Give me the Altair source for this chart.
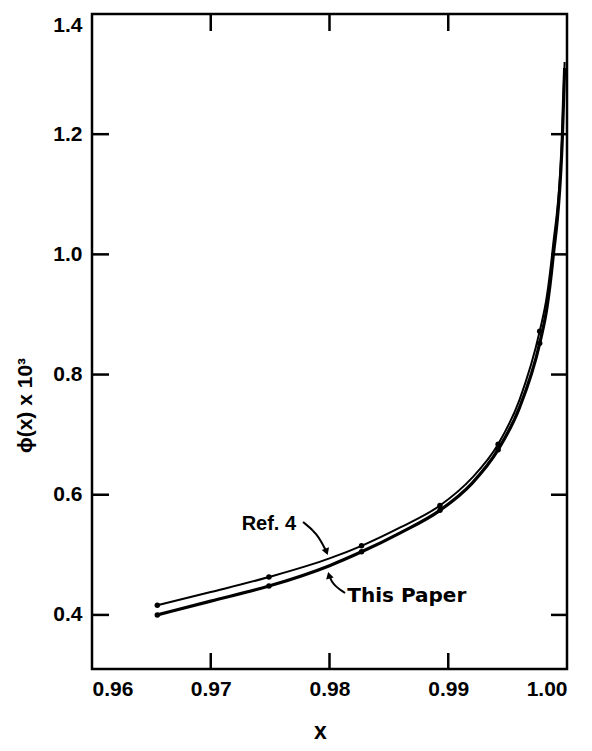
import altair as alt
import pandas as pd

# ---- data ----
x_vals = [0.9655, 0.9700, 0.9749, 0.9800, 0.9827, 0.9860, 0.9893, 0.9920,
          0.9942, 0.9960, 0.9977, 0.9983, 0.9988, 0.9996, 0.9998]
ref4_vals = [0.416, 0.438, 0.463, 0.494, 0.515, 0.546, 0.582, 0.628,
             0.684, 0.758, 0.872, 0.930, 1.010, 1.200, 1.320]
this_vals = [0.400, 0.423, 0.448, 0.482, 0.505, 0.537, 0.574, 0.619,
             0.675, 0.745, 0.852, 0.910, 0.990, 1.190, 1.310]
marker_x = [0.9655, 0.9749, 0.9827, 0.9893, 0.9942, 0.9977]

x_ticks = [0.96, 0.97, 0.98, 0.99, 1.00]
y_ticks = [0.4, 0.6, 0.8, 1.0, 1.2, 1.4]
inner_x_ticks = [0.97, 0.98, 0.99]
inner_y_ticks = [0.4, 0.6, 0.8, 1.0, 1.2]

# annotations
ref_label = "Ref. 4"
ref_label_xy = (0.9726, 0.541)
ref_arrow_x = [0.97777, 0.97895, 0.97975]
ref_arrow_y = [0.5546, 0.5363, 0.5050]
this_label = "This Paper"
this_label_xy = (0.9815, 0.4215)
this_arrow_x = [0.98131, 0.98029, 0.97996]
this_arrow_y = [0.4365, 0.4498, 0.4660]

W, H = 475, 655
FONT = "Liberation Sans"

xs = alt.Scale(domain=[0.96, 1.00], nice=False, zero=False)
ys = alt.Scale(domain=[0.31, 1.40], nice=False, zero=False)

x_axis = alt.Axis(values=x_ticks, format=".2f", title="x", labelPadding=9,
                  titleX=228, titleY=74, titleBaseline="bottom", titleFontSize=23)
y_axis = alt.Axis(values=y_ticks, format=".1f", title="ϕ(x) x 10³", labelPadding=10,
                  labelFlush=True,
                  titleX=-67, titleY=391, titleAngle=270, titleAlign="center",
                  titleBaseline="middle", titleFontSize=21)


def X(field="x"):
    return alt.X(f"{field}:Q", scale=xs, axis=x_axis)


def Y(field="y"):
    return alt.Y(f"{field}:Q", scale=ys, axis=y_axis)


rows = []
for xv, a, b in zip(x_vals, ref4_vals, this_vals):
    rows.append({"x": xv, "y": a, "s": "Ref. 4", "m": xv in marker_x})
    rows.append({"x": xv, "y": b, "s": "This Paper", "m": xv in marker_x})
df = pd.DataFrame(rows)

base = alt.Chart(df)

ref_line = base.transform_filter(alt.datum.s == "Ref. 4").mark_line(
    color="black", strokeWidth=2, interpolate="monotone").encode(x=X(), y=Y())
this_line = base.transform_filter(alt.datum.s == "This Paper").mark_line(
    color="black", strokeWidth=3.2, interpolate="monotone").encode(x=X(), y=Y())
pts = base.transform_filter(alt.datum.m).mark_circle(color="black", size=30, opacity=1).encode(
    x=X(), y=Y())

# inward ticks on all four sides
xt = pd.DataFrame({"x": inner_x_ticks})
yt = pd.DataFrame({"y": inner_y_ticks})
tick_bottom = alt.Chart(xt).mark_rule(color="black", strokeWidth=2.5).encode(
    x=X(), y=alt.value(H), y2=alt.value(H - 16))
tick_top = alt.Chart(xt).mark_rule(color="black", strokeWidth=2.5).encode(
    x=X(), y=alt.value(0), y2=alt.value(17))
tick_left = alt.Chart(yt).mark_rule(color="black", strokeWidth=2.5).encode(
    y=Y(), x=alt.value(0), x2=alt.value(17))
tick_right = alt.Chart(yt).mark_rule(color="black", strokeWidth=2.5).encode(
    y=Y(), x=alt.value(W), x2=alt.value(W - 16))

# annotations
lab_ref = pd.DataFrame({"x": [ref_label_xy[0]], "y": [ref_label_xy[1]], "t": [ref_label]})
lab_this = pd.DataFrame({"x": [this_label_xy[0]], "y": [this_label_xy[1]], "t": [this_label]})
label_ref = alt.Chart(lab_ref).mark_text(
    align="left", baseline="alphabetic", font=FONT, fontWeight="bold", fontSize=20, color="black").encode(
    x=X(), y=Y(), text="t:N")
label_this = alt.Chart(lab_this).mark_text(
    align="left", baseline="alphabetic", font="DejaVu Sans", fontWeight="bold", fontSize=20, color="black").encode(
    x=X(), y=Y(), text="t:N")

arr = pd.DataFrame({"x": ref_arrow_x + this_arrow_x, "y": ref_arrow_y + this_arrow_y,
                    "a": ["r"] * 3 + ["t"] * 3, "o": [0, 1, 2] * 2})
arrow_lines = alt.Chart(arr).mark_line(color="black", strokeWidth=2, interpolate="basis").encode(
    x=X(), y=Y(), detail="a:N", order="o:Q")
heads = pd.DataFrame({"x": [ref_arrow_x[-1], this_arrow_x[-1]],
                      "y": [ref_arrow_y[-1], this_arrow_y[-1]],
                      "ang": [160, 345]})
arrow_heads = alt.Chart(heads).mark_point(shape="triangle-up", filled=True, color="black",
                                          size=60, opacity=1).encode(
    x=X(), y=Y(), angle=alt.Angle("ang:Q", scale=None))

chart = alt.layer(
    ref_line, this_line, pts,
    tick_bottom, tick_top, tick_left, tick_right,
    label_ref, label_this, arrow_lines, arrow_heads,
).properties(
    width=W, height=H,
    autosize=alt.AutoSizeParams(type="none"),
    padding={"left": 84, "top": 6, "right": 17, "bottom": 74},
).configure_view(
    stroke="black", strokeWidth=2.5
).configure_axis(
    grid=False, domain=False, ticks=False,
    labelFont=FONT, labelFontWeight="bold", labelFontSize=21, labelColor="black",
    titleFont=FONT, titleFontWeight="bold", titleColor="black",
)

chart.save("out.html", embed_options={"renderer": "svg", "actions": False})
